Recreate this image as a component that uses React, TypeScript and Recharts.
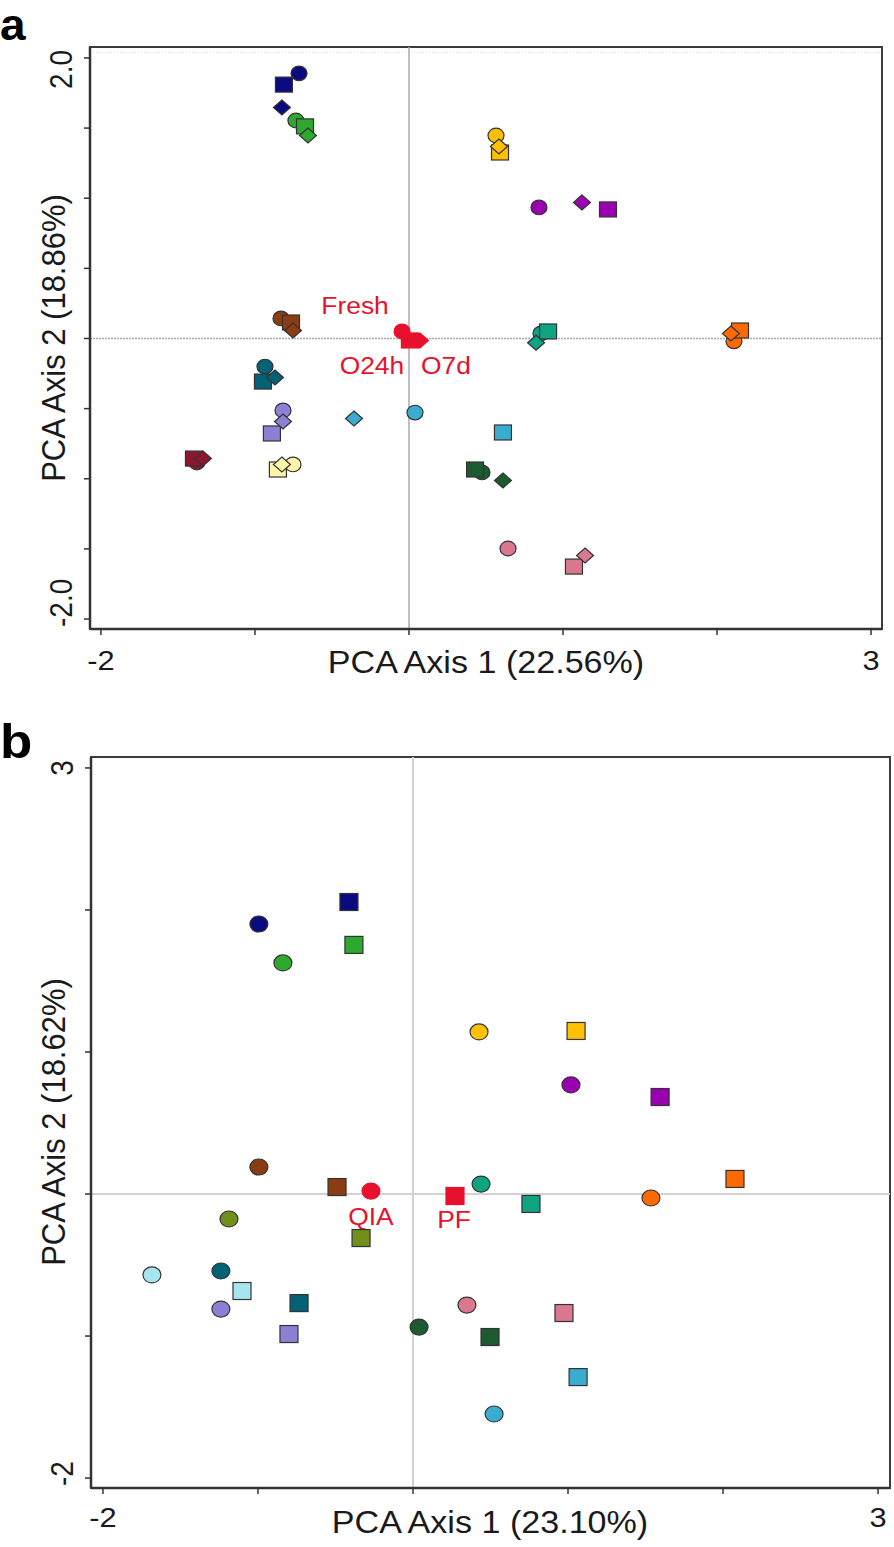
import { ScatterChart, Scatter, XAxis, YAxis, ReferenceLine, ReferenceArea } from 'recharts'

const FONT = '"Liberation Sans", Arial, Helvetica, sans-serif'
const INK = '#1a1a1a'
const RED = '#e8112d'
const STRETCH = 1.1

// sample groups (one colour each); 'Ref' = the red controls
const groupColors: Record<string, string> = {
  G1: '#0b0b80',
  G2: '#2fa82f',
  G3: '#ffc000',
  G4: '#9a00b0',
  G5: '#8a3d12',
  G6: '#0fa382',
  G7: '#ff6a00',
  G8: '#006274',
  G9: '#8c80d6',
  G10: '#3aacd0',
  G11: '#8f1630',
  G12: '#fff5a8',
  G13: '#1e5a30',
  G14: '#d9788f',
  G15: '#718f1b',
  G16: '#a8e4ee',
  Ref: RED,
}

type Row = [string, number, number]

// panel a: PCA axis 1 / axis 2 scores
const aCircles: Row[] = [
  ['G1', -0.714, 1.89], ['G2', -0.734, 1.554], ['G3', 0.565, 1.447], ['G4', 0.844, 0.934],
  ['G5', -0.831, 0.143], ['Ref', -0.045, 0.05], ['G6', 0.857, 0.036], ['G7', 2.11, -0.02],
  ['G8', -0.935, -0.2], ['G9', -0.818, -0.513], ['G10', 0.039, -0.528], ['G11', -1.377, -0.884],
  ['G12', -0.753, -0.898], ['G13', 0.474, -0.955], ['G14', 0.643, -1.497],
]
const aSquares: Row[] = [
  ['G1', -0.812, 1.81], ['G2', -0.675, 1.512], ['G3', 0.591, 1.326], ['G4', 1.292, 0.92],
  ['G5', -0.766, 0.114], ['Ref', 0.006, -0.014], ['G6', 0.903, 0.05], ['G7', 2.149, 0.057],
  ['G8', -0.948, -0.307], ['G9', -0.89, -0.677], ['G10', 0.61, -0.67], ['G11', -1.396, -0.856],
  ['G12', -0.851, -0.934], ['G13', 0.429, -0.934], ['G14', 1.071, -1.626],
]
const aDiamonds: Row[] = [
  ['G1', -0.825, 1.647], ['G2', -0.656, 1.447], ['G3', 0.584, 1.369], ['G4', 1.123, 0.97],
  ['G5', -0.753, 0.057], ['Ref', 0.071, -0.014], ['G6', 0.825, -0.03], ['G7', 2.09, 0.036],
  ['G8', -0.87, -0.278], ['G9', -0.818, -0.592], ['G10', -0.357, -0.57], ['G11', -1.338, -0.856],
  ['G12', -0.825, -0.898], ['G13', 0.61, -1.012], ['G14', 1.143, -1.547],
]

// panel b
const bCircles: Row[] = [
  ['G1', -0.994, 1.901], ['G2', -0.839, 1.627], ['G3', 0.426, 1.141], ['G4', 1.019, 0.768],
  ['G5', -0.994, 0.19], ['Ref', -0.271, 0.021], ['G6', 0.439, 0.07], ['G7', 1.535, -0.028],
  ['G15', -1.187, -0.176], ['G16', -1.684, -0.57], ['G8', -1.239, -0.542], ['G9', -1.239, -0.81],
  ['G13', 0.039, -0.937], ['G14', 0.348, -0.782], ['G10', 0.523, -1.549],
]
const bSquares: Row[] = [
  ['G1', -0.413, 2.056], ['G2', -0.381, 1.754], ['G3', 1.052, 1.148], ['G4', 1.594, 0.683],
  ['G5', -0.49, 0.049], ['Ref', 0.271, -0.014], ['G6', 0.761, -0.07], ['G7', 2.077, 0.106],
  ['G15', -0.335, -0.31], ['G16', -1.103, -0.683], ['G8', -0.735, -0.768], ['G9', -0.8, -0.986],
  ['G13', 0.497, -1.007], ['G14', 0.974, -0.838], ['G10', 1.065, -1.289],
]

const xTicks = [-2, -1, 0, 1, 2, 3]
const aYTicks = [-2, -1.5, -1, -0.5, 0, 0.5, 1, 1.5, 2]
const bYTicks = [-2, -1, 0, 1, 2, 3]
const xTickLabels: Record<string, string> = { '-2': '-2', '3': '3' }
const aYTickLabels: Record<string, string> = { '-2': '-2.0', '2': '2.0' }
const bYTickLabels: Record<string, string> = { '-2': '-2', '3': '3' }

// control labels per marker shape
const aControlNames: Record<string, string> = { circle: 'Fresh', square: 'O24h', diamond: 'O7d' }
const bControlNames: Record<string, string> = { circle: 'QIA', square: 'PF' }
const labelOffset: Record<string, [number, number]> = {
  Fresh: [-47, -17], O24h: [-38, 34], O7d: [26, 34], QIA: [0, 34], PF: [-1, 32],
}

const toPoints = (rows: Row[]) => rows.map(([group, x, y]) => ({ group, x, y }))

const Marker = ({ cx, cy, payload, kind, small, names }: any) => {
  if (cx == null || cy == null) return <g />
  const fill = groupColors[payload.group]
  const isRef = payload.group === 'Ref'
  const stroke = isRef ? RED : '#333'
  const rx = small ? 8 : 9
  const ry = small ? 7.3 : 8
  const hw = small ? 8.5 : 9
  const hh = small ? 7.5 : 8.5
  let mark
  if (kind === 'circle') {
    mark = <ellipse cx={cx} cy={cy} rx={rx} ry={ry} fill={fill} stroke={stroke} strokeWidth={1.2} />
  } else if (kind === 'square') {
    mark = <rect x={cx - hw} y={cy - hh} width={hw * 2} height={hh * 2} fill={fill} stroke={stroke} strokeWidth={1.2} />
  } else {
    mark = (
      <polygon
        points={`${cx},${cy - hh} ${cx + hw},${cy} ${cx},${cy + hh} ${cx - hw},${cy}`}
        fill={fill}
        stroke={stroke}
        strokeWidth={1.2}
      />
    )
  }
  if (!isRef) return mark
  const name = names[kind]
  const [dx, dy] = labelOffset[name]
  return (
    <g>
      {mark}
      <text
        transform={`translate(${cx + dx},${cy + dy}) scale(${STRETCH},1)`}
        textAnchor="middle"
        fontSize={24}
        fontFamily={FONT}
        fill={RED}
      >
        {name}
      </text>
    </g>
  )
}

const XTick = ({ x, y, payload, dy }: any) => {
  const t = xTickLabels[String(payload.value)]
  if (!t) return <g />
  return (
    <text transform={`translate(${x},${y + dy}) scale(${STRETCH},1)`} textAnchor="middle" fontSize={28} fontFamily={FONT} fill={INK}>
      {t}
    </text>
  )
}

const YTick = ({ x, y, payload, labels, top, bottom }: any) => {
  const t = labels[String(payload.value)]
  if (!t) return <g />
  const len = t.length * 28 * 0.5
  let anchor = 'middle'
  let ty = y
  if (y - len / 2 < top + 3) {
    anchor = 'end'
    ty = top + 3
  } else if (y + len / 2 > bottom - 2) {
    anchor = 'start'
    ty = bottom - 2
  }
  return (
    <text
      transform={`translate(${x - 10},${ty}) scale(${STRETCH},1) rotate(-90)`}
      textAnchor={anchor}
      fontSize={28}
      fontFamily={FONT}
      fill={INK}
    >
      {t}
    </text>
  )
}

const frameProps = { fill: 'none', stroke: '#3c3c3c', strokeWidth: 2, fillOpacity: 0 }
const axisLine = { stroke: '#333', strokeWidth: 2.5 }
const tickLine = { stroke: '#333', strokeWidth: 1.5 }

const PanelA = () => {
  const xd: [number, number] = [-2.071, 3.071]
  const yd: [number, number] = [-2.071, 2.078]
  return (
    <ScatterChart width={894} height={700} margin={{ top: 47, right: 12, bottom: 0, left: 0 }}>
      <XAxis type="number" dataKey="x" domain={xd} allowDataOverflow ticks={xTicks} height={71}
        axisLine={axisLine} tickLine={tickLine} tickSize={6} tick={<XTick dy={33} />} />
      <YAxis type="number" dataKey="y" domain={yd} allowDataOverflow ticks={aYTicks} width={90}
        axisLine={axisLine} tickLine={tickLine} tickSize={6}
        tick={<YTick labels={aYTickLabels} top={47} bottom={629} />} />
      <ReferenceArea x1={xd[0]} x2={xd[1]} y1={yd[0]} y2={yd[1]} {...frameProps} />
      <ReferenceLine y={2.04} stroke="#d8d8d8" strokeWidth={1} strokeDasharray="1 2" />
      <ReferenceLine x={0} stroke="#a9a9a9" strokeWidth={1.5} />
      <ReferenceLine y={0} stroke="#a9a9a9" strokeWidth={1.5} strokeDasharray="2 1" />
      <Scatter data={toPoints(aCircles)} isAnimationActive={false}
        shape={(p: any) => <Marker {...p} kind="circle" small names={aControlNames} />} />
      <Scatter data={toPoints(aSquares)} isAnimationActive={false}
        shape={(p: any) => <Marker {...p} kind="square" small names={aControlNames} />} />
      <Scatter data={toPoints(aDiamonds)} isAnimationActive={false}
        shape={(p: any) => <Marker {...p} kind="diamond" small names={aControlNames} />} />
    </ScatterChart>
  )
}

const PanelB = () => {
  const xd: [number, number] = [-2.077, 3.077]
  const yd: [number, number] = [-2.07, 3.077]
  return (
    <ScatterChart width={894} height={847} margin={{ top: 57, right: 4, bottom: 0, left: 0 }}>
      <XAxis type="number" dataKey="x" domain={xd} allowDataOverflow ticks={xTicks} height={59}
        axisLine={axisLine} tickLine={tickLine} tickSize={6} tick={<XTick dy={31} />} />
      <YAxis type="number" dataKey="y" domain={yd} allowDataOverflow ticks={bYTicks} width={91}
        axisLine={axisLine} tickLine={tickLine} tickSize={6}
        tick={<YTick labels={bYTickLabels} top={57} bottom={788} />} />
      <ReferenceArea x1={xd[0]} x2={xd[1]} y1={yd[0]} y2={yd[1]} {...frameProps} />
      <ReferenceLine x={0} stroke="#d2d2d2" strokeWidth={2} />
      <ReferenceLine y={0} stroke="#d2d2d2" strokeWidth={2} />
      <Scatter data={toPoints(bCircles)} isAnimationActive={false}
        shape={(p: any) => <Marker {...p} kind="circle" names={bControlNames} />} />
      <Scatter data={toPoints(bSquares)} isAnimationActive={false}
        shape={(p: any) => <Marker {...p} kind="square" names={bControlNames} />} />
    </ScatterChart>
  )
}

const Title = ({ x, y, rotate, children }: any) => (
  <text
    transform={`translate(${x},${y}) scale(${STRETCH},1)${rotate ? ' rotate(-90)' : ''}`}
    textAnchor="middle"
    fontSize={31}
    fontFamily={FONT}
    fill={INK}
  >
    {children}
  </text>
)

export default function App() {
  return (
    <div style={{ position: 'absolute', left: 0, top: 0, width: 894, height: 1547, background: '#fff' }}>
      <div style={{ position: 'absolute', left: 0, top: 0 }}>
        <PanelA />
      </div>
      <div style={{ position: 'absolute', left: 0, top: 700 }}>
        <PanelB />
      </div>
      <svg width={894} height={1547} style={{ position: 'absolute', left: 0, top: 0, pointerEvents: 'none' }}>
        <text transform={`translate(0,40) scale(1.15,1.1)`} fontSize={40} fontWeight="bold" fontFamily={FONT} fill="#000">a</text>
        <text transform={`translate(0,758) scale(${STRETCH},1)`} fontSize={48} fontWeight="bold" fontFamily={FONT} fill="#000">b</text>
        <Title x={486} y={673}>PCA Axis 1 (22.56%)</Title>
        <Title x={65} y={338} rotate>PCA Axis 2 (18.86%)</Title>
        <Title x={490} y={1533}>PCA Axis 1 (23.10%)</Title>
        <Title x={65} y={1122} rotate>PCA Axis 2 (18.62%)</Title>
      </svg>
    </div>
  )
}
